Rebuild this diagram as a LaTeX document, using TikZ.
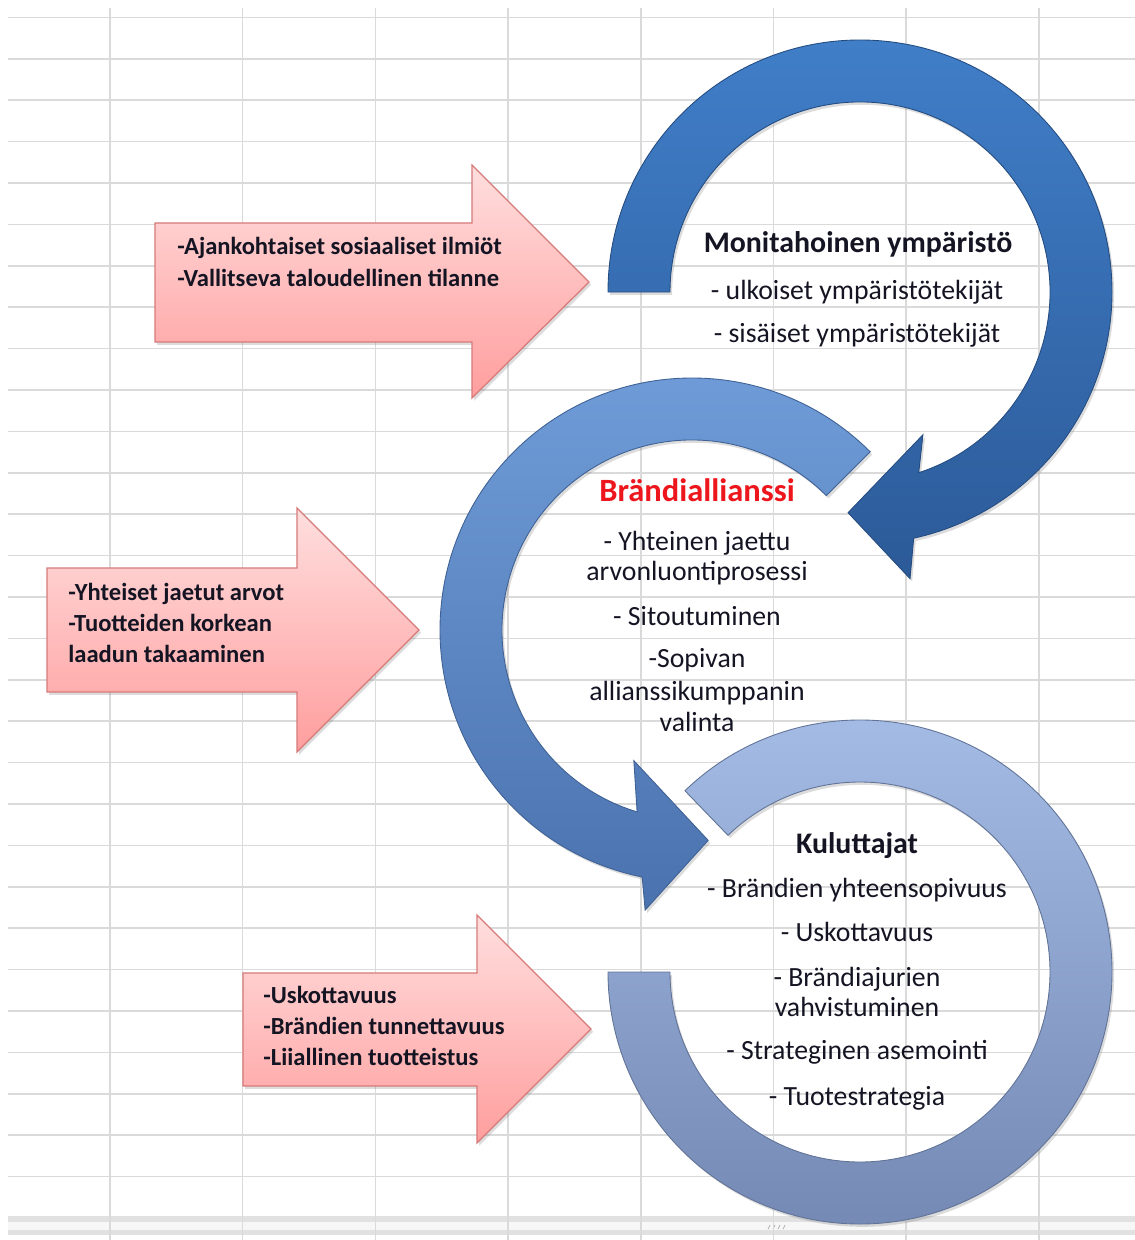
\documentclass[tikz,border=0pt]{standalone}
\usepackage{fontspec}
\setmainfont{Carlito}
\usepackage{tikz}
\usetikzlibrary{shadows}

\definecolor{gridgray}{RGB}{218,218,218}
\definecolor{pinktop}{RGB}{255,222,222}
\definecolor{pinkbot}{RGB}{255,158,158}
\definecolor{pinkedge}{RGB}{214,122,122}
\definecolor{darktop}{RGB}{64,126,200}
\definecolor{darkbot}{RGB}{44,90,152}
\definecolor{midtop}{RGB}{112,157,217}
\definecolor{midbot}{RGB}{74,114,174}
\definecolor{lighttop}{RGB}{166,190,231}
\definecolor{lightbot}{RGB}{114,135,178}
\definecolor{inktext}{RGB}{20,20,35}
\definecolor{brandred}{RGB}{236,22,28}

\tikzset{
	gridline/.style={draw=gridgray, line width=0.9pt},
	softshadow/.style={drop shadow={opacity=0.28, shadow xshift=1.2pt, shadow yshift=-1.6pt}},
	pinkarrow/.style={draw=pinkedge, line width=0.7pt, top color=pinktop, bottom color=pinkbot, softshadow},
	ringdark/.style={draw=darkbot!85!black, line width=0.5pt, top color=darktop, bottom color=darkbot, softshadow},
	ringmid/.style={draw=midbot!85!black, line width=0.5pt, top color=midtop, bottom color=midbot, softshadow},
	ringlight/.style={draw=lightbot!85!black, line width=0.5pt, top color=lighttop, bottom color=lightbot, softshadow},
	pinklabel/.style={anchor=base west, inner sep=0pt, text=inktext, font=\fontsize{14}{17}\selectfont\bfseries},
	ringtitle/.style={anchor=base, inner sep=0pt, text=inktext, font=\fontsize{17}{20}\selectfont\bfseries},
	ringitem/.style={anchor=base, inner sep=0pt, text=inktext, font=\fontsize{15.8}{18}\selectfont},
}

\begin{document}
\begin{tikzpicture}[x=0.02cm, y=0.02cm]
	\useasboundingbox (0,0) rectangle (1135,-1240);

	\fill[gridgray!80] (8,-1216) rectangle (1135,-1235);
	\fill[gray!6] (8,-1222) rectangle (1135,-1230);
	\foreach \k in {0,...,3}
		\draw[gray!70, line width=0.4pt] (768+5*\k,-1229) -- ++(2,4);

	\foreach \gy in {0,...,28}
		\draw[gridline] (8,-17.4-41.4*\gy) -- (1135,-17.4-41.4*\gy);
	\foreach \gx in {0,...,7}
		\draw[gridline] (110+132.7*\gx,-8) -- (110+132.7*\gx,-1240);

	\draw[pinkarrow] (155,-223) -- (472,-223) -- (472,-165) -- (589,-282) -- (472,-398) -- (472,-342) -- (155,-342) -- cycle;
	\draw[pinkarrow] (47,-568) -- (297,-568) -- (297,-508) -- (419,-630) -- (297,-752) -- (297,-692) -- (47,-692) -- cycle;
	\draw[pinkarrow] (243,-973) -- (477,-973) -- (477,-915) -- (591,-1029) -- (477,-1143) -- (477,-1086) -- (243,-1086) -- cycle;

	\begin{scope}[shift={(860,-292)}]
		\draw[ringdark] (180:252) arc[start angle=180, end angle=-77.7, radius=252]
			-- (-80.1:291) -- (-93.1:221) -- (-66.2:156) -- (-72:190)
			arc[start angle=-72, end angle=180, radius=190] -- cycle;
	\end{scope}

	\begin{scope}[shift={(692,-630)}]
		\draw[ringmid] (45:252) arc[start angle=45, end angle=258.6, radius=252]
			-- (260.5:284) -- (274.4:211) -- (246:143) -- (253.2:190)
			arc[start angle=253.2, end angle=45, radius=190] -- cycle;
	\end{scope}

	\begin{scope}[shift={(860,-972)}]
		\draw[ringlight] (134:252) arc[start angle=134, end angle=-180, radius=252]
			-- (180:190) arc[start angle=-180, end angle=134, radius=190] -- cycle;
	\end{scope}

	\node[pinklabel] (trendsoc) at (177,-255) {-Ajankohtaiset sosiaaliset ilmiöt};
	\node[pinklabel] (trendeco) at (177,-286) {-Vallitseva taloudellinen tilanne};

	\node[pinklabel] (valshared) at (68,-600) {-Yhteiset jaetut arvot};
	\node[pinklabel] (valquality) at (68,-631) {-Tuotteiden korkean};
	\node[pinklabel] (valquality2) at (68,-662) {laadun takaaminen};

	\node[pinklabel] (riskcred) at (263,-1003) {-Uskottavuus};
	\node[pinklabel] (riskrecog) at (263,-1034) {-Brändien tunnettavuus};
	\node[pinklabel] (riskover) at (263,-1065) {-Liiallinen tuotteistus};

	\node[ringtitle] (envtitle) at (858,-253) {Monitahoinen ympäristö};
	\node[ringitem] (envext) at (857,-299) {- ulkoiset ympäristötekijät};
	\node[ringitem] (envint) at (857,-342) {- sisäiset ympäristötekijät};

	\node[ringtitle, text=brandred, font=\fontsize{18.5}{21}\selectfont\bfseries] (alltitle) at (697,-501) {Brändiallianssi};
	\node[ringitem] (allshared) at (697,-550) {- Yhteinen jaettu};
	\node[ringitem] (allshared2) at (697,-580) {arvonluontiprosessi};
	\node[ringitem] (allcommit) at (697,-625) {- Sitoutuminen};
	\node[ringitem] (allpartner) at (697,-667) {-Sopivan};
	\node[ringitem] (allpartner2) at (697,-700) {allianssikumppanin};
	\node[ringitem] (allpartner3) at (697,-731) {valinta};

	\node[ringtitle] (custitle) at (857,-853) {Kuluttajat};
	\node[ringitem] (cusfit) at (857,-897) {- Brändien yhteensopivuus};
	\node[ringitem] (cuscred) at (857,-941) {- Uskottavuus};
	\node[ringitem] (cusdrive) at (857,-986) {- Brändiajurien};
	\node[ringitem] (cusdrive2) at (857,-1016) {vahvistuminen};
	\node[ringitem] (cuspos) at (857,-1059) {- Strateginen asemointi};
	\node[ringitem] (cusprod) at (857,-1105) {- Tuotestrategia};
\end{tikzpicture}
\end{document}
